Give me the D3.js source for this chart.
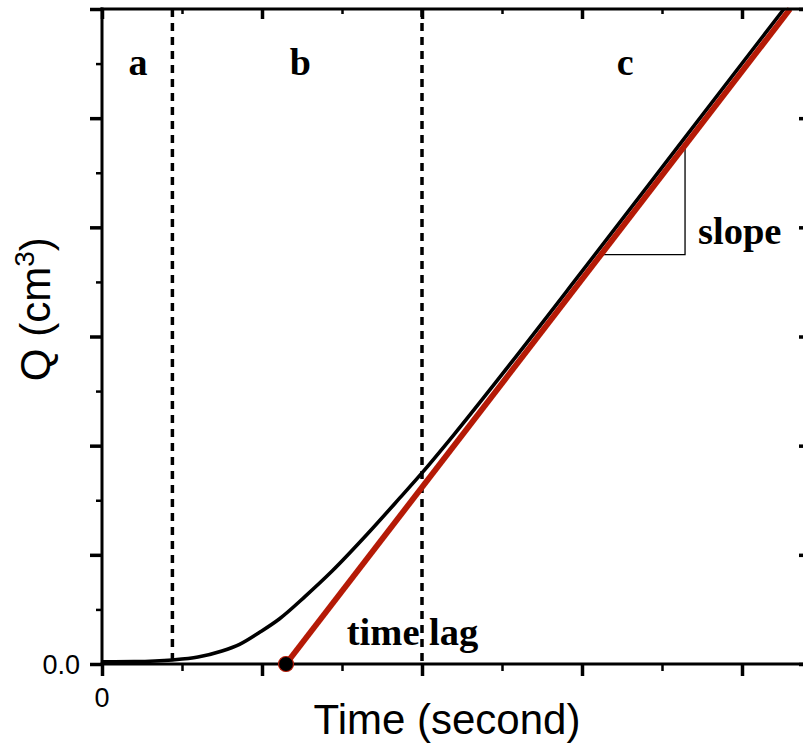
<!DOCTYPE html>
<html>
<head>
<meta charset="utf-8">
<script src="https://cdn.jsdelivr.net/npm/d3@7/dist/d3.min.js"></script>
<style>
  html, body { margin: 0; padding: 0; background: #fff; }
  svg { display: block; }
</style>
</head>
<body>
<svg id="chart" width="803" height="747"></svg>
<script>
// ---- data ----
const timeValues = [0, 0.2, 0.44, 0.6, 0.75, 0.86, 0.99, 1.11, 1.27, 1.44, 1.66, 1.86, 2.0, 2.2, 2.5, 3.0, 3.6, 4.262];
const qValues    = [0.02, 0.022, 0.037, 0.064, 0.119, 0.18, 0.295, 0.415, 0.62, 0.854, 1.193, 1.519, 1.751, 2.102, 2.653, 3.596, 4.739, 6.0];
const fitTime = [1.15, 4.3];
const fitQ    = [0, 6];
const timeLag = 1.15;
const regionBounds = [0.44, 2.0];
const regionLabels = ["a", "b", "c"];
const regionLabelX = [0.225, 1.24, 3.27];
const xTickLabels = ["0"];
const yTickLabels = ["0.0"];
const slopeTriangle = { qLow: 3.75, timeRight: 3.644 };

// ---- layout ----
const svg = d3.select("#chart");
const pLeft = 102, pRight = 806, pTop = 9, pBottom = 664;
const x = d3.scaleLinear().domain([0, 4.4]).range([pLeft, pRight]);
const y = d3.scaleLinear().domain([0, 6]).range([pBottom, pTop]);

const red = "#b51a06";
const fitQAt = t => fitQ[0] + (fitQ[1] - fitQ[0]) * (t - fitTime[0]) / (fitTime[1] - fitTime[0]);
const fitTAt = q => fitTime[0] + (q - fitQ[0]) * (fitTime[1] - fitTime[0]) / (fitQ[1] - fitQ[0]);

// dashed region boundaries
svg.selectAll("line.region").data(regionBounds).enter().append("line")
  .attr("x1", d => x(d)).attr("x2", d => x(d))
  .attr("y1", y(6)).attr("y2", y(0))
  .attr("stroke", "#000").attr("stroke-width", 3.5)
  .attr("stroke-dasharray", "8,6");

// measured curve
const line = d3.line().x(d => x(d[0])).y(d => y(d[1])).curve(d3.curveMonotoneX);
svg.append("path")
  .datum(timeValues.map((t, i) => [t, qValues[i]]))
  .attr("d", line)
  .attr("fill", "none").attr("stroke", "#000").attr("stroke-width", 3.6);

// slope triangle
const triPts = [
  [fitTAt(slopeTriangle.qLow), slopeTriangle.qLow],
  [slopeTriangle.timeRight, slopeTriangle.qLow],
  [slopeTriangle.timeRight, fitQAt(slopeTriangle.timeRight)]
];
svg.append("path")
  .datum(triPts)
  .attr("d", d3.line().x(d => x(d[0])).y(d => y(d[1])))
  .attr("fill", "none").attr("stroke", "#000").attr("stroke-width", 1.3);

// linear fit
svg.append("path")
  .datum(fitTime.map((t, i) => [t, fitQ[i]]))
  .attr("d", d3.line().x(d => x(d[0])).y(d => y(d[1])))
  .attr("fill", "none").attr("stroke", red).attr("stroke-width", 5.8);

// ---- axes ----
const axisW = 3;
const gB = svg.append("g").attr("transform", `translate(0,${pBottom})`)
  .call(d3.axisBottom(x).tickValues(d3.range(0, 4.41, 1)).tickSize(12).tickFormat(""));
const gBm = svg.append("g").attr("transform", `translate(0,${pBottom})`)
  .call(d3.axisBottom(x).tickValues(d3.range(0.5, 4.41, 1)).tickSize(7).tickFormat(""));
const gT = svg.append("g").attr("transform", `translate(0,${pTop})`)
  .call(d3.axisTop(x).tickValues(d3.range(0, 4.41, 1)).tickSize(-10).tickFormat(""));
const gTm = svg.append("g").attr("transform", `translate(0,${pTop})`)
  .call(d3.axisTop(x).tickValues(d3.range(0.5, 4.41, 1)).tickSize(-5).tickFormat(""));
const gL = svg.append("g").attr("transform", `translate(${pLeft},0)`)
  .call(d3.axisLeft(y).tickValues(d3.range(0, 6.01, 1)).tickSize(12).tickFormat(""));
const gLm = svg.append("g").attr("transform", `translate(${pLeft},0)`)
  .call(d3.axisLeft(y).tickValues(d3.range(0.5, 6, 1)).tickSize(6).tickFormat(""));
const gR = svg.append("g").attr("transform", `translate(${pRight},0)`)
  .call(d3.axisRight(y).tickValues(d3.range(0, 6.01, 1)).tickSize(-7).tickFormat(""));
const gRm = svg.append("g").attr("transform", `translate(${pRight},0)`)
  .call(d3.axisRight(y).tickValues(d3.range(0.5, 6, 1)).tickSize(-3).tickFormat(""));

[gB, gT, gL, gR].forEach(g => {
  g.selectAll(".tick line").attr("stroke", "#000").attr("stroke-width", 3.5);
});
[gBm, gTm, gLm, gRm].forEach(g => {
  g.selectAll(".tick line").attr("stroke", "#000").attr("stroke-width", 2.5);
});
svg.selectAll(".domain").remove();
// frame lines (axis spines) drawn from the scales
const frame = svg.append("g").attr("stroke", "#000").attr("stroke-width", axisW).attr("stroke-linecap", "square");
frame.append("line").attr("x1", x(0)).attr("x2", x(4.4)).attr("y1", y(0)).attr("y2", y(0));
frame.append("line").attr("x1", x(0)).attr("x2", x(4.4)).attr("y1", y(6)).attr("y2", y(6));
frame.append("line").attr("x1", x(0)).attr("x2", x(0)).attr("y1", y(0)).attr("y2", y(6));
frame.append("line").attr("x1", x(4.4)).attr("x2", x(4.4)).attr("y1", y(0)).attr("y2", y(6));

// tick labels
const sans = "Liberation Sans, Arial, sans-serif";
svg.append("text").text(xTickLabels[0])
  .attr("x", x(0)).attr("y", pBottom + 43)
  .attr("text-anchor", "middle")
  .attr("font-family", sans).attr("font-size", 27);
svg.append("text").text(yTickLabels[0])
  .attr("x", pLeft - 22).attr("y", y(0) + 10)
  .attr("text-anchor", "end")
  .attr("font-family", sans).attr("font-size", 27);

// axis titles
svg.append("text").text("Time (second)")
  .attr("x", 447).attr("y", 734)
  .attr("text-anchor", "middle")
  .attr("font-family", sans).attr("font-size", 42);
const yt = svg.append("text")
  .attr("transform", `translate(50,${y(3.25)}) rotate(-90)`)
  .attr("text-anchor", "middle")
  .attr("font-family", sans).attr("font-size", 42);
yt.append("tspan").text("Q (cm");
yt.append("tspan").text("3").attr("font-size", 28).attr("dy", -16);
yt.append("tspan").text(")").attr("dy", 16);

// annotations
const serif = "Liberation Serif, Times New Roman, serif";
svg.selectAll("text.region").data(regionLabels).enter().append("text")
  .text(d => d)
  .attr("x", (d, i) => x(regionLabelX[i])).attr("y", y(5.4))
  .attr("text-anchor", "middle")
  .attr("font-family", serif).attr("font-weight", "bold").attr("font-size", 38);

svg.append("text").text("time lag")
  .attr("x", x(1.53)).attr("y", y(0.17))
  .attr("font-family", serif).attr("font-weight", "bold").attr("font-size", 38.5);

svg.append("text").text("slope")
  .attr("x", x(3.725)).attr("y", y(3.85))
  .attr("font-family", serif).attr("font-weight", "bold").attr("font-size", 38.5);

// time lag point
svg.append("circle")
  .attr("cx", x(timeLag)).attr("cy", y(0)).attr("r", 7.5)
  .attr("fill", "#000").attr("stroke", red).attr("stroke-width", 1.2);
</script>
</body>
</html>
